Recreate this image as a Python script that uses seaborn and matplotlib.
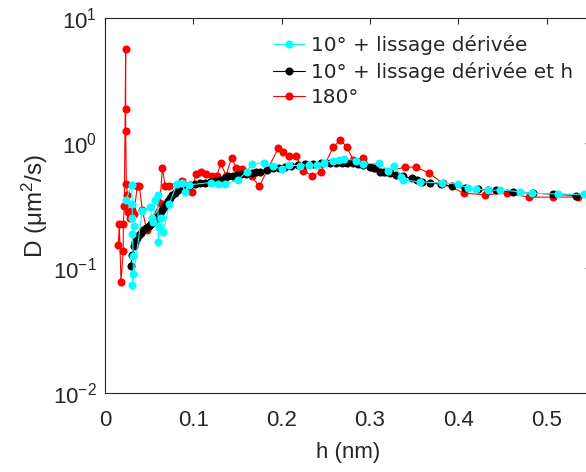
import numpy as np
import pandas as pd
import matplotlib
matplotlib.use("Agg")
import matplotlib.pyplot as plt
import seaborn as sns

# h (nm) and D (um^2/s)
RED_H = [0.0151, 0.0162, 0.0181, 0.0207, 0.0207, 0.0219, 0.0234, 0.0234, 0.0234,
         0.0241, 0.0253, 0.0260, 0.0283, 0.0306, 0.0328, 0.0366, 0.0388, 0.0422,
         0.0472, 0.0623, 0.0649, 0.0680, 0.0725, 0.0869, 0.0982, 0.1031, 0.1084,
         0.1144, 0.1208, 0.1265, 0.1310, 0.1370, 0.1435, 0.1484, 0.1555, 0.1661,
         0.1747, 0.1963, 0.2019, 0.2087, 0.2160, 0.2246, 0.2344, 0.2446, 0.2586,
         0.2665, 0.2737, 0.2812, 0.2918, 0.3038, 0.3152, 0.3398, 0.3522, 0.3673,
         0.3822, 0.4066, 0.4303, 0.4547, 0.4802, 0.5077, 0.5360]
RED_D = [0.154, 0.226, 0.078, 0.138, 0.226, 0.315, 5.65, 1.88, 1.26,
         0.472, 0.386, 0.282, 0.253, 0.293, 0.272, 0.458, 0.458, 0.293,
         0.202, 0.333, 0.638, 0.458, 0.458, 0.502, 0.406, 0.565, 0.593,
         0.565, 0.551, 0.541, 0.692, 0.551, 0.767, 0.631, 0.623, 0.541,
         0.451, 0.917, 0.844, 0.796, 0.796, 0.604, 0.548, 0.589, 0.929,
         1.07, 0.929, 0.735, 0.759, 0.631, 0.586, 0.643, 0.643, 0.575,
         0.477, 0.398, 0.386, 0.398, 0.370, 0.370, 0.370]

BLACK_H = [0.0291, 0.0309, 0.0332, 0.0345, 0.0362, 0.0385, 0.0408, 0.0434, 0.0464,
           0.0493, 0.0521, 0.0547, 0.0572, 0.0600, 0.0623, 0.0646, 0.0668, 0.0691,
           0.0713, 0.0736, 0.0764, 0.0793, 0.0827, 0.0861, 0.0895, 0.0929, 0.0968,
           0.1019, 0.1076, 0.1133, 0.1189, 0.1246, 0.1302, 0.1359, 0.1396, 0.1444,
           0.1492, 0.1540, 0.1597, 0.1661, 0.1710, 0.1755, 0.1831, 0.1903, 0.1971,
           0.2039, 0.2106, 0.2189, 0.2265, 0.2359, 0.2446, 0.2548, 0.2616, 0.2681,
           0.2741, 0.2812, 0.2865, 0.2925, 0.3001, 0.3058, 0.3114, 0.3171, 0.3228,
           0.3296, 0.3375, 0.3473, 0.3528, 0.3587, 0.3681, 0.3805, 0.3926, 0.4077,
           0.4228, 0.4341, 0.4428, 0.4624, 0.4847, 0.5070, 0.5334]
BLACK_D = [0.104, 0.128, 0.149, 0.163, 0.175, 0.185, 0.192, 0.202, 0.210,
           0.216, 0.224, 0.235, 0.248, 0.262, 0.277, 0.293, 0.309, 0.327,
           0.345, 0.362, 0.382, 0.400, 0.419, 0.435, 0.445, 0.451, 0.459,
           0.468, 0.479, 0.484, 0.490, 0.499, 0.508, 0.523, 0.541, 0.548,
           0.557, 0.565, 0.571, 0.575, 0.584, 0.593, 0.614, 0.629, 0.638,
           0.646, 0.655, 0.670, 0.676, 0.683, 0.689, 0.692, 0.695, 0.700,
           0.700, 0.692, 0.683, 0.670, 0.650, 0.629, 0.593, 0.584, 0.575,
           0.557, 0.541, 0.525, 0.508, 0.493, 0.484, 0.468, 0.450, 0.435,
           0.429, 0.418, 0.418, 0.406, 0.398, 0.391, 0.381]

CYAN_H = [0.0238, 0.0302, 0.0309, 0.0309, 0.0328, 0.0309, 0.0320, 0.0320, 0.0309,
          0.0422, 0.0510, 0.0529, 0.0547, 0.0566, 0.0597, 0.0604, 0.0615, 0.0631,
          0.0660, 0.0728, 0.0812, 0.0869, 0.0906, 0.0955, 0.1197, 0.1283, 0.1359,
          0.1503, 0.1605, 0.1661, 0.1801, 0.1903, 0.2001, 0.2087, 0.2213, 0.2310,
          0.2398, 0.2478, 0.2586, 0.2653, 0.2709, 0.2846, 0.2925, 0.3106, 0.3208,
          0.3271, 0.3356, 0.3375, 0.3564, 0.3813, 0.4001, 0.4108, 0.4196, 0.4341,
          0.4469, 0.4704, 0.4832, 0.5130, 0.5425]
CYAN_D = [0.352, 0.464, 0.327, 0.251, 0.218, 0.188, 0.124, 0.090, 0.0735,
          0.287, 0.311, 0.251, 0.236, 0.352, 0.386, 0.163, 0.215, 0.251,
          0.194, 0.327, 0.470, 0.484, 0.406, 0.464, 0.484, 0.472, 0.470,
          0.508, 0.593, 0.679, 0.700, 0.655, 0.620, 0.664, 0.661, 0.670,
          0.670, 0.700, 0.726, 0.735, 0.752, 0.725, 0.683, 0.692, 0.600,
          0.658, 0.537, 0.508, 0.490, 0.480, 0.471, 0.436, 0.431, 0.418,
          0.422, 0.408, 0.397, 0.392, 0.389]

LABELS = ["10° + lissage dérivée", "10° + lissage dérivée et h", "180°"]
COLORS = ["#00ffff", "black", "red"]

sns.set_style("white")
plt.rcParams.update({
    "font.family": ["Liberation Sans", "DejaVu Sans"],
    "mathtext.fontset": "custom",
    "mathtext.rm": "Liberation Sans",
    "mathtext.it": "Liberation Sans:italic",
    "mathtext.default": "regular",
})

fig = plt.figure(figsize=(5.86, 4.72), dpi=100)
ax = fig.add_axes([0.1792, 0.1674, 0.8288, 0.7939])

series = [(CYAN_H, CYAN_D), (BLACK_H, BLACK_D), (RED_H, RED_D)]
zorders = [4, 3, 2]
for (h, d), lab, col, z in zip(series, LABELS, COLORS, zorders):
    df = pd.DataFrame({"h": h, "D": d})
    sns.lineplot(data=df, x="h", y="D", ax=ax, sort=False, estimator=None,
                 color=col, marker="o", markersize=5.8, markeredgewidth=0,
                 linewidth=0.8, label=lab, zorder=z)

ax.set_yscale("log")
ax.set_xlim(0, 0.55)
ax.set_ylim(1e-2, 1e1)
ax.set_xticks([0, 0.1, 0.2, 0.3, 0.4, 0.5])
ax.set_xticklabels(["0", "0.1", "0.2", "0.3", "0.4", "0.5"])

ax.set_xlabel("h (nm)", fontsize=16, color="#262626", labelpad=8)
ax.set_ylabel(r"D ($\mu$m$^2$/s)", fontsize=17.5, color="#262626", labelpad=2)

for sp in ax.spines.values():
    sp.set_color("#262626")
    sp.set_linewidth(0.8)
ax.tick_params(which="both", direction="in", top=True, right=True,
               colors="#262626", labelsize=16, width=0.8)
ax.tick_params(which="major", length=4)
ax.tick_params(which="minor", length=3)
ax.tick_params(axis="x", pad=12)
ax.tick_params(axis="y", pad=6)

handles, labels = ax.get_legend_handles_labels()
ax.legend(handles, labels, loc="upper left", frameon=False,
          bbox_to_anchor=(273 / 586, 1 - 35 / 472), bbox_transform=fig.transFigure,
          prop={"family": "DejaVu Sans", "size": 14.4},
          handlelength=1.6, handletextpad=0.3, labelspacing=0.33,
          borderpad=0, borderaxespad=0)

fig.savefig("out.png", dpi=100)
